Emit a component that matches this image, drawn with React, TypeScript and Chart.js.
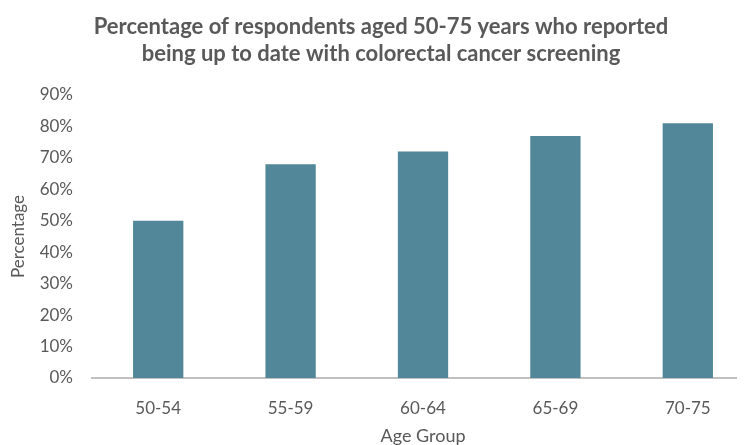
import { useEffect, useRef } from "react";
import { Chart, registerables } from "chart.js";

Chart.register(...registerables);

// Age bands and share of respondents up to date with screening (%)
const ageGroups = ["50-54", "55-59", "60-64", "65-69", "70-75"];
const upToDatePct = [50, 68, 72, 77, 81];

const yMax = 90;
const yStep = 10;

const titleLines = [
  "Percentage of respondents aged 50-75 years who reported",
  "being up to date with colorectal cancer screening",
];
const xAxisTitle = "Age Group";
const yAxisTitle = "Percentage";

const barColor = "#528799";
const textColor = "#595959";
const axisLineColor = "#c0c0c0";
const fontFamily = "Lato, 'Open Sans', sans-serif";

export default function App() {
  const canvasRef = useRef<HTMLCanvasElement | null>(null);

  useEffect(() => {
    if (!canvasRef.current) return;
    const chart = new Chart(canvasRef.current, {
      type: "bar",
      data: {
        labels: ageGroups,
        datasets: [
          {
            label: yAxisTitle,
            data: upToDatePct,
            backgroundColor: barColor,
            borderWidth: 0,
            categoryPercentage: 1,
            barPercentage: 0.38,
          },
        ],
      },
      options: {
        animation: false,
        responsive: true,
        maintainAspectRatio: false,
        layout: { padding: { left: 0, right: 4, top: 5, bottom: 0 } },
        plugins: {
          legend: { display: false },
          tooltip: { enabled: false },
          title: {
            display: true,
            text: titleLines,
            color: textColor,
            font: { family: fontFamily, size: 22, weight: "bold", lineHeight: 1.25 },
            padding: { top: 0, bottom: 27 },
          },
        },
        scales: {
          x: {
            grid: { display: false, drawTicks: false },
            border: { display: true, color: axisLineColor, width: 2 },
            ticks: {
              color: textColor,
              padding: 20,
              maxRotation: 0,
              font: { family: fontFamily, size: 17 },
            },
            title: {
              display: true,
              text: xAxisTitle,
              color: textColor,
              padding: { top: 0, bottom: 0 },
              font: { family: fontFamily, size: 18 },
            },
            afterFit: (scale) => {
              scale.height = 69;
            },
          },
          y: {
            min: 0,
            max: yMax,
            grid: { display: false, drawTicks: false },
            border: { display: false },
            ticks: {
              stepSize: yStep,
              color: textColor,
              padding: 19,
              font: { family: fontFamily, size: 17 },
              callback: (v) => `${v}%`,
            },
            title: {
              display: true,
              text: yAxisTitle,
              color: textColor,
              padding: 0,
              font: { family: fontFamily, size: 17 },
            },
            afterFit: (scale) => {
              scale.width = 84;
            },
          },
        },
      },
    });
    return () => chart.destroy();
  }, []);

  return (
    <div style={{ width: 737, height: 437, overflow: "hidden" }}>
      <div style={{ width: 750, height: 439, position: "relative" }}>
        <canvas ref={canvasRef} />
      </div>
    </div>
  );
}
